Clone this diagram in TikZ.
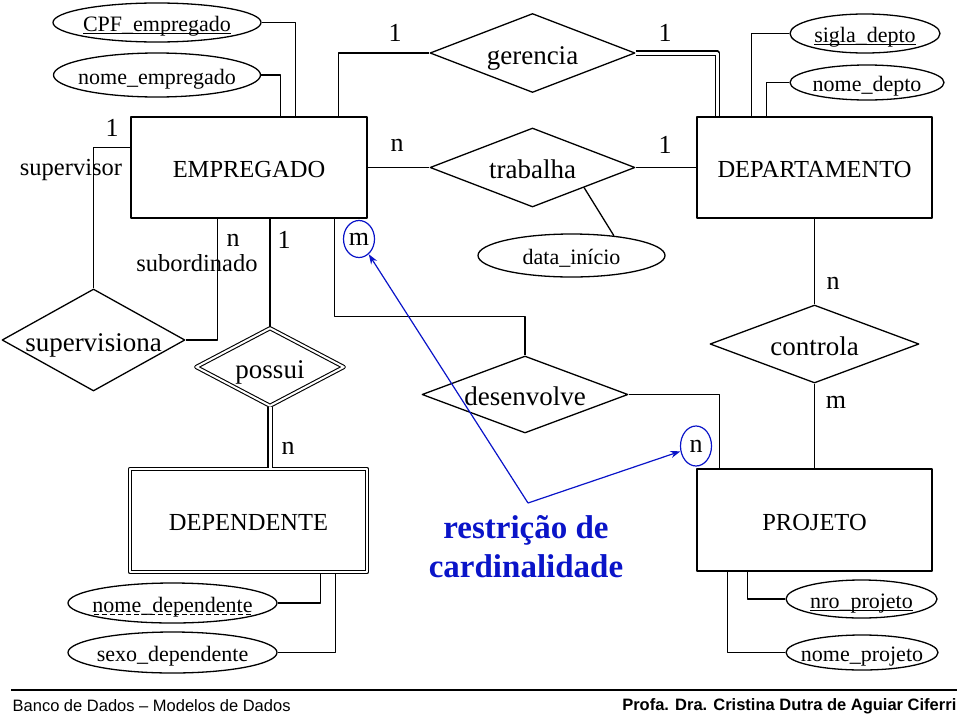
\documentclass[tikz,border=0pt]{standalone}
\usepackage{fontspec}
\setmainfont{Liberation Serif}
\newfontfamily\arialfont{Liberation Sans}
\usetikzlibrary{shapes.geometric,arrows.meta}
\definecolor{notablue}{RGB}{10,20,200}
\newcommand{\cz}[1]{\makebox[0pt]{#1}}
\newsavebox{\ulbox}
\newcommand{\dashul}[1]{\sbox\ulbox{#1}\rlap{\raisebox{-2.5pt}{\makebox[\wd\ulbox]{\xleaders\hbox to 8pt{\hss\rule{5pt}{0.9pt}\hss}\hfill}}}\usebox\ulbox}
\newcommand{\solidul}[1]{\sbox\ulbox{#1}\rlap{\raisebox{-2.5pt}{\rule{\wd\ulbox}{0.9pt}}}\usebox\ulbox}

\begin{document}
\begin{tikzpicture}[x=1pt, y=-1pt, line join=round, >={Stealth[length=10pt,width=7pt]}, line width=1.3pt,
  ent/.style={draw, rectangle, inner sep=0pt, text height=20pt, text depth=0pt, font=\fontsize{24.5}{28}\selectfont},
  weakent/.style={ent, double, double distance=2pt, line width=1.1pt},
  rel/.style={draw, diamond, inner sep=0pt, text height=22pt, text depth=0pt, font=\fontsize{27}{30}\selectfont},
  weakrel/.style={rel, double, double distance=2pt, line width=1.1pt},
  attr/.style={draw, ellipse, inner sep=0pt, text height=18pt, text depth=0pt, font=\fontsize{22}{24}\selectfont},
  card/.style={inner sep=0pt, font=\fontsize{26}{28}\selectfont},
  role/.style={inner sep=0pt, font=\fontsize{24.5}{28}\selectfont},
  dbl/.style={double, double distance=3pt, line width=1.1pt},
  note/.style={draw=notablue, line width=1.2pt}]
\useasboundingbox (0,0) rectangle (960,715);
% entidades
\node[ent, minimum width=236pt, minimum height=101pt] (emp) at (249,167.5) {EMPREGADO};
\node[ent, minimum width=235pt, minimum height=101pt] (dep) at (814.5,167.5) {DEPARTAMENTO};
\node[weakent, minimum width=237pt, minimum height=103pt] (depd) at (248.5,520.5) {DEPENDENTE};
\node[ent, minimum width=235pt, minimum height=102pt] (proj) at (814.5,520) {PROJETO};
% relacionamentos
\node[rel, minimum width=205pt, minimum height=79pt] (ger) at (532.5,53) {\cz{gerencia}};
\node[rel, minimum width=205pt, minimum height=79pt] (trab) at (532.5,167.5) {\cz{trabalha}};
\node[rel, minimum width=183pt, minimum height=102pt] (sup) at (93.5,340) {\cz{supervisiona}};
\node[weakrel, minimum width=148pt, minimum height=78pt] (pos) at (270,367) {\cz{possui}};
\node[rel, minimum width=206pt, minimum height=77pt] (des) at (525,394.5) {\cz{desenvolve}};
\node[rel, minimum width=209pt, minimum height=78pt] (con) at (814.5,344) {\cz{controla}};
% atributos
\node[attr, minimum width=208pt, minimum height=39pt] (cpf) at (157,22.5) {\cz{\solidul{CPF\_empregado}}};
\node[attr, minimum width=207pt, minimum height=44pt] (nemp) at (157,75) {\cz{nome\_empregado}};
\node[attr, minimum width=150pt, minimum height=39pt] (sig) at (865,33.5) {\cz{\solidul{sigla\_depto}}};
\node[attr, minimum width=154pt, minimum height=35pt] (ndpt) at (867,82.5) {\cz{nome\_depto}};
\node[attr, minimum width=187pt, minimum height=43pt] (dti) at (571.5,255.5) {\cz{data\_início}};
\node[attr, minimum width=209pt, minimum height=40pt] (ndep) at (172.5,603) {\cz{\dashul{nome\_dependente}}};
\node[attr, minimum width=209pt, minimum height=41pt] (sexo) at (172.5,652.5) {\cz{sexo\_dependente}};
\node[attr, minimum width=151pt, minimum height=38pt] (nro) at (861.5,599) {\cz{\solidul{nro\_projeto}}};
\node[attr, minimum width=152pt, minimum height=35pt] (nproj) at (862,652.5) {\cz{nome\_projeto}};
% ligacoes
\draw (cpf.east) -| ([xshift=165pt]emp.north west);
\draw (nemp.east) -| ([xshift=150pt]emp.north west);
\draw ([xshift=208pt]emp.north west) |- (ger.west);
\draw[dbl] (ger.east) -| ([xshift=21pt]dep.north west);
\draw (emp.east) -- (trab.west);
\draw (trab.east) -- (dep.west);
\draw (trab.south east) -- (dti.25);
\draw ([xshift=55pt]dep.north west) |- (sig.west);
\draw ([xshift=70pt]dep.north west) |- (ndpt.west);
\draw ([yshift=-31pt]emp.north west) -| (sup.north);
\draw (sup.east) -| ([xshift=87pt]emp.south west);
\draw (pos.north |- emp.south) -- (pos.north);
\draw[dbl] (pos.south) -- (pos.south |- depd.north);
\draw ([xshift=204pt]emp.south west) |- ([yshift=39pt]des.north) -- (des.north);
\draw (des.east) -| ([xshift=23pt]proj.north west);
\draw (dep.south) -- (con.north);
\draw (con.south) -- (proj.north);
\draw (ndep.east) -| ([xshift=191pt]depd.south west);
\draw (sexo.east) -| ([xshift=206pt]depd.south west);
\draw ([xshift=51pt]proj.south west) |- (nro.west);
\draw ([xshift=31pt]proj.south west) |- (nproj.west);
% cardinalidades
\node[card] (c1) at (112,128) {1};
\node[role] (rsup) at (71,170) {supervisor};
\node[card] (c2) at (233,240) {n};
\node[role] (rsub) at (197,263) {subordinado};
\node[card] (c3) at (284,240) {1};
\node[card, ellipse, note, minimum width=31pt, minimum height=37pt] (cm) at (359,239) {m};
\node[card] (c4) at (288,448) {n};
\node[card] (c5) at (395,33) {1};
\node[card] (c6) at (665,33) {1};
\node[card] (c7) at (397,145) {n};
\node[card] (c8) at (665,145) {1};
\node[card] (c9) at (833,283) {n};
\node[card] (c10) at (836,402) {m};
\node[card, ellipse, note, minimum width=31pt, minimum height=40pt] (cn) at (696,446) {n};
% restricao
\node[inner sep=0pt, align=center, text=notablue, font=\fontsize{33}{39}\selectfont\bfseries] (rc) at (526,547) {restrição de\\cardinalidade};
\coordinate (rcp) at (528,503);
\draw[note, ->] (rcp) -- (cm);
\draw[note, ->] (rcp) -- (cn);
% rodape
\draw[line width=2.4pt] (11,690) -- (957,690);
\node[anchor=west, inner sep=0pt, font=\arialfont\fontsize{16.5}{18}\selectfont] (fl) at (12,706) {Banco de Dados – Modelos de Dados};
\node[anchor=east, inner sep=0pt, font=\arialfont\bfseries\fontsize{16.5}{18}\selectfont] (fr) at (957,706) {Profa. Dra. Cristina Dutra de Aguiar Ciferri};
\end{tikzpicture}
\end{document}
